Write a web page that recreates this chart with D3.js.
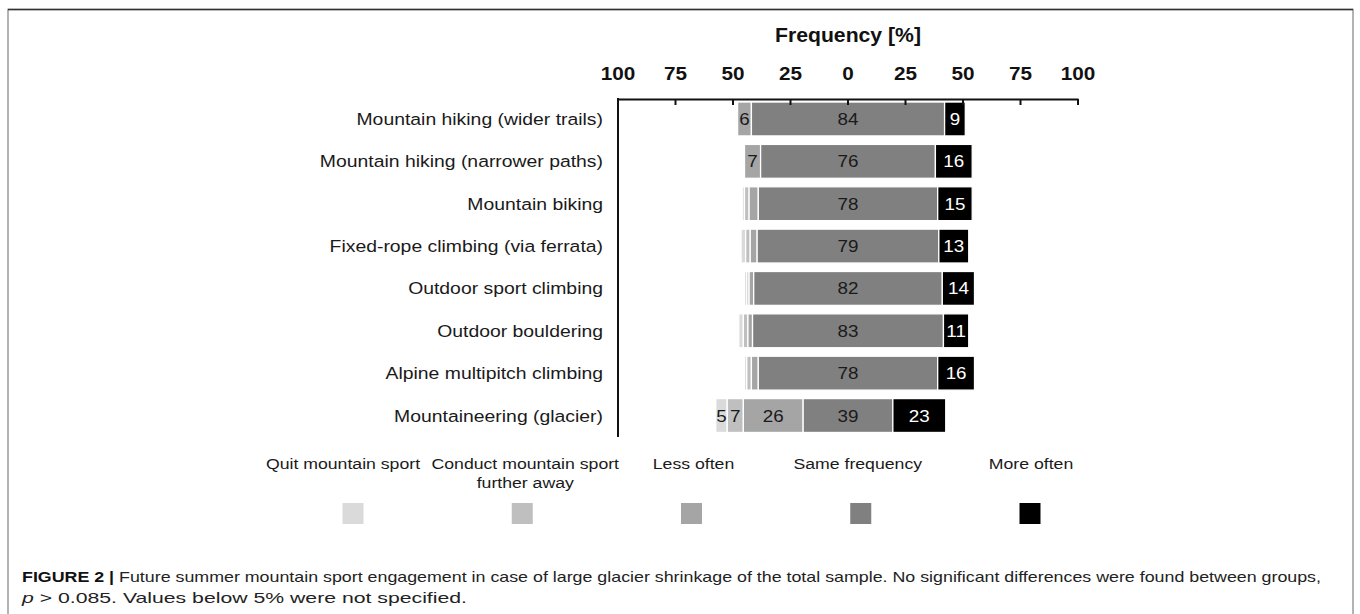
<!DOCTYPE html>
<html>
<head>
<meta charset="utf-8">
<script src="https://cdn.jsdelivr.net/npm/d3@7"></script>
<style>
  body { margin: 0; background: #fff; }
  svg { display: block; font-family: "Liberation Sans", Arial, sans-serif; }
</style>
</head>
<body>
<div id="chart"></div>
<script>
// ------------------------------
// Data
// ------------------------------
const categories = [
  "Mountain hiking (wider trails)",
  "Mountain hiking (narrower paths)",
  "Mountain biking",
  "Fixed-rope climbing (via ferrata)",
  "Outdoor sport climbing",
  "Outdoor bouldering",
  "Alpine multipitch climbing",
  "Mountaineering (glacier)"
];
const seriesNames = ["Quit mountain sport", "Conduct mountain sport further away", "Less often", "Same frequency", "More often"];
const quitSport = [0, 0, 1, 2, 1, 2, 1, 5];
const furtherAway = [0, 0, 2, 2, 1, 2, 2, 7];
const lessOften = [6, 7, 4, 3, 2, 2, 3, 26];
const sameFrequency = [84, 76, 78, 79, 82, 83, 78, 39];
const moreOften = [9, 16, 15, 13, 14, 11, 16, 23];
const tickValues = [-100, -75, -50, -25, 0, 25, 50, 75, 100];
const seriesColors = ["#dadada", "#bfbfbf", "#a5a5a5", "#808080", "#000000"];

const width = 1360, height = 614;
const sx = 1.14; // the original text is a little wider than Arial

const svg = d3.select("#chart").append("svg").attr("width", width).attr("height", height);

// frame
svg.append("rect")
  .attr("x", 8).attr("y", 9.5).attr("width", 1345).attr("height", 620)
  .attr("fill", "none").attr("stroke", "#9a9a9a").attr("stroke-width", 1.5);
svg.append("line")
  .attr("x1", 8).attr("x2", 1353).attr("y1", 9.5).attr("y2", 9.5)
  .attr("stroke", "#333").attr("stroke-width", 1.5);

function addText(g, x, y, str, opts = {}) {
  return g.append("text")
    .attr("transform", `translate(${x},${y}) scale(${opts.scale || 1},1)`)
    .attr("text-anchor", opts.anchor || "middle")
    .attr("font-size", (opts.size || 16) + "px")
    .attr("font-weight", opts.weight || "normal")
    .attr("fill", opts.fill || "#1a1a1a")
    .text(str);
}

// ------------------------------
// Scales
// ------------------------------
const x = d3.scaleLinear().domain([-100, 100]).range([618, 1078]);
const y = d3.scaleBand().domain(categories).range([97.8, 436.7]).paddingInner(0.2).paddingOuter(0.1);

// build segments centred on the middle of "same frequency"
const rows = categories.map((cat, i) => {
  const vals = [quitSport[i], furtherAway[i], lessOften[i], sameFrequency[i], moreOften[i]];
  let start = -(vals[0] + vals[1] + vals[2] + vals[3] / 2);
  return vals.map((v, k) => {
    const seg = { cat, k, value: v, x0: start, x1: start + v };
    start += v;
    return seg;
  }).filter(d => d.value > 0);
});
const segments = rows.flat();

const bars = svg.append("g");
bars.selectAll("rect")
  .data(segments)
  .enter()
  .append("rect")
  .attr("x", d => x(d.x0))
  .attr("y", d => y(d.cat))
  .attr("width", d => x(d.x1) - x(d.x0))
  .attr("height", y.bandwidth())
  .attr("fill", d => seriesColors[d.k])
  .attr("stroke", "#fff")
  .attr("stroke-width", 1.3);

segments.filter(d => d.value >= 5).forEach(d => {
  addText(bars, (x(d.x0) + x(d.x1)) / 2, y(d.cat) + y.bandwidth() / 2 + 6, d.value, {
    size: 16.5, scale: sx, fill: d.k === 4 ? "#fff" : "#1a1a1a"
  });
});

// ------------------------------
// Axes
// ------------------------------
const axisG = svg.append("g").attr("transform", "translate(0,99)");
axisG.call(d3.axisTop(x).tickValues(tickValues).tickSize(0).tickFormat(""));
axisG.select(".domain").attr("stroke", "#111").attr("stroke-width", 2);
axisG.selectAll(".tick-mark")
  .data(tickValues)
  .enter()
  .append("line")
  .attr("class", "tick-mark")
  .attr("x1", d => x(d)).attr("x2", d => x(d))
  .attr("y1", 0).attr("y2", 6)
  .attr("stroke", "#111").attr("stroke-width", 2);
tickValues.forEach(v => {
  addText(svg, x(v), 79.5, Math.abs(v), { size: 18, scale: 1.15, weight: "bold", fill: "#111" });
});
addText(svg, x(0), 41.5, "Frequency [%]", { size: 20, scale: 1.06, weight: "bold", fill: "#111" });

svg.append("line")
  .attr("x1", x(-100)).attr("x2", x(-100))
  .attr("y1", 98).attr("y2", 437)
  .attr("stroke", "#111").attr("stroke-width", 2);

categories.forEach(c => {
  addText(svg, 603, y(c) + y.bandwidth() / 2 + 6, c, { size: 17, scale: sx, anchor: "end" });
});

// ------------------------------
// Legend
// ------------------------------
const legendX = d3.scalePoint().domain(seriesNames).range([353, 1030]);
const legendLabels = [["Quit mountain sport"], ["Conduct mountain sport", "further away"], ["Less often"], ["Same frequency"], ["More often"]];
const labelShift = [-10, 3, 2, -3, 1];
const legend = svg.append("g");
seriesNames.forEach((name, i) => {
  const cx = legendX(name);
  legendLabels[i].forEach((line, j) => {
    addText(legend, cx + labelShift[i], 469 + j * 19, line, { size: 15.5, scale: sx });
  });
  legend.append("rect")
    .attr("x", cx - 10.5).attr("y", 503)
    .attr("width", 21).attr("height", 21)
    .attr("fill", seriesColors[i]);
});

// ------------------------------
// Caption
// ------------------------------
const cap1 = svg.append("text")
  .attr("x", 22).attr("y", 582)
  .attr("font-size", "15px")
  .attr("fill", "#222")
  .attr("textLength", 1299)
  .attr("lengthAdjust", "spacingAndGlyphs");
cap1.append("tspan").attr("font-weight", "bold").attr("fill", "#111").text("FIGURE 2 | ");
cap1.append("tspan").text("Future summer mountain sport engagement in case of large glacier shrinkage of the total sample. No significant differences were found between groups,");

const cap2 = svg.append("text")
  .attr("x", 22).attr("y", 603)
  .attr("font-size", "15px")
  .attr("fill", "#222")
  .attr("textLength", 445)
  .attr("lengthAdjust", "spacingAndGlyphs");
cap2.append("tspan").attr("font-style", "italic").text("p");
cap2.append("tspan").text(" > 0.085. Values below 5% were not specified.");
</script>
</body>
</html>
